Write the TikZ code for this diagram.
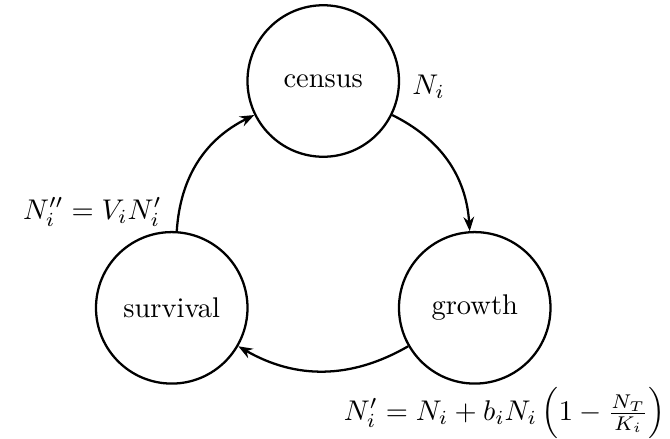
\documentclass[tikz,border=0pt]{standalone}
\usepackage{amsmath}
\usetikzlibrary{arrows.meta,positioning}
\tikzset{
  stagecirc/.style={draw, circle, thick, minimum size=1.87cm,
    inner sep=0pt, align=center},
  arr/.style={-{Stealth[length=5pt]}, thick},
}
\begin{document}
\begin{tikzpicture}[node distance=2.8cm and 1.87cm, on grid]
  \useasboundingbox (-3.99,1.0) rectangle (4.28,-4.41);
  % Stages of the cycle
  \node[stagecirc] (census) {census};
  \node[stagecirc, below right=of census] (growth) {growth};
  \node[stagecirc, below left=of census] (survival) {survival};

  % Arrows
  \foreach \s/\t in {census/growth, growth/survival, survival/census} {
    \draw[arr] (\s) to[bend left] (\t);
  }

  % Labels
  \node (ni) at (1.3,-0.07) {$N_i$};
  \node (nsurv) at (-2.85,-1.62) {$N_i'' = V_i N_i'$};
  \node (ngrow) at (2.24,-4.1) {$N_i' = N_i + b_i N_i \left(1 - \frac{N_T}{K_i}\right)$};
\end{tikzpicture}
\end{document}
